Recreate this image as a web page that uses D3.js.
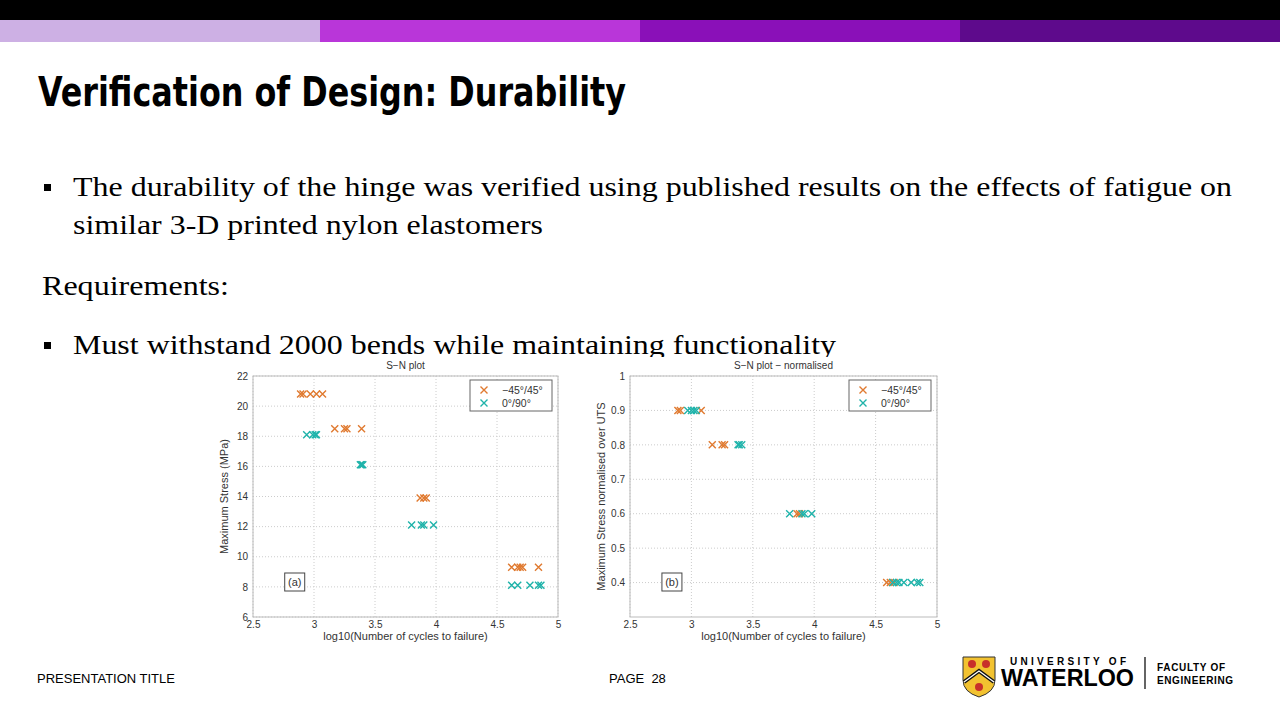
<!DOCTYPE html>
<html><head><meta charset="utf-8">
<script src="https://cdn.jsdelivr.net/npm/d3@7"></script>
<style>body{margin:0;background:#fff}svg{display:block}</style>
</head><body>
<svg id="slide" width="1280" height="720"></svg>
<script>
// chart (a): S-N plot
const snOrange = [[2.89,20.8],[2.91,20.8],[2.97,20.8],[3.02,20.8],[3.07,20.8],
  [3.17,18.5],[3.25,18.5],[3.27,18.5],[3.39,18.5],
  [3.87,13.9],[3.90,13.9],[3.92,13.9],
  [4.62,9.3],[4.67,9.3],[4.69,9.3],[4.71,9.3],[4.84,9.3]];
const snTeal = [[2.94,18.1],[2.99,18.1],[3.01,18.1],[3.02,18.1],
  [3.38,16.1],[3.39,16.1],[3.40,16.1],
  [3.80,12.1],[3.88,12.1],[3.90,12.1],[3.98,12.1],
  [4.62,8.1],[4.67,8.1],[4.77,8.1],[4.84,8.1],[4.86,8.1]];
// chart (b): normalised
const normOrange = [[2.89,0.9],[2.91,0.9],[3.08,0.9],[3.17,0.8],[3.25,0.8],[3.27,0.8],
  [3.86,0.6],[3.88,0.6],[4.59,0.4],[4.62,0.4],[4.65,0.4]];
const normTeal = [[2.97,0.9],[3.00,0.9],[3.02,0.9],[3.04,0.9],[3.38,0.8],[3.39,0.8],[3.41,0.8],
  [3.80,0.6],[3.90,0.6],[3.92,0.6],[3.98,0.6],
  [4.64,0.4],[4.67,0.4],[4.69,0.4],[4.73,0.4],[4.79,0.4],[4.84,0.4],[4.86,0.4]];
const xTicks = [2.5,3,3.5,4,4.5,5];
const yTicksA = [6,8,10,12,14,16,18,20,22];
const yTicksB = [0.4,0.5,0.6,0.7,0.8,0.9,1];
const legendLabels = ["\u221245\u00b0/45\u00b0","0\u00b0/90\u00b0"];
const barColors = ["#cdb0e4","#b936d9","#8a10b8","#5e0a8c"];

const ORANGE = "#e07a30", TEAL = "#1fb3aa";
const svg = d3.select("#slide");

svg.append("rect").attr("width",1280).attr("height",20).attr("fill","#000");
svg.selectAll(".bar").data(barColors).join("rect")
  .attr("x",(d,i)=>i*320).attr("y",20).attr("width",320).attr("height",22).attr("fill",d=>d);

svg.append("text").attr("x",38).attr("y",106)
  .style("font-family","'DejaVu Sans Condensed','Liberation Sans Narrow',sans-serif")
  .style("font-weight","bold").style("font-size","40px").attr("textLength",588)
  .attr("lengthAdjust","spacingAndGlyphs")
  .text("Verification of Design: Durability");

const serif = "'Liberation Serif','DejaVu Serif',serif";
function line(x,y,t,len,bullet){
  if(bullet) svg.append("rect").attr("x",44).attr("y",y-12).attr("width",7).attr("height",7).attr("fill","#000");
  svg.append("text").attr("x",x).attr("y",y).style("font-family",serif).style("font-size","28px")
    .attr("textLength",len).attr("lengthAdjust","spacingAndGlyphs").text(t);
}
line(73,196,"The durability of the hinge was verified using published results on the effects of fatigue on",1159,true);
line(73,234,"similar 3-D printed nylon elastomers",470);
line(42,295,"Requirements:",187);
line(73,354,"Must withstand 2000 bends while maintaining functionality",763,true);

svg.append("rect").attr("x",215).attr("y",357).attr("width",740).attr("height",290).attr("fill","#fff");

function plot(x0,x1,y0,y1,yDom,yTicks,yFmt,title,ylab,tag,orange,teal){
  const g = svg.append("g").style("font-family","'Liberation Sans',Arial,sans-serif");
  const x = d3.scaleLinear().domain([2.5,5]).range([x0,x1]);
  const y = d3.scaleLinear().domain(yDom).range([y1,y0]);
  g.selectAll(".gx").data(xTicks).join("line").attr("x1",d=>x(d)).attr("x2",d=>x(d))
    .attr("y1",y0).attr("y2",y1).attr("stroke","#ccc").attr("stroke-dasharray","1,2");
  g.selectAll(".gy").data(yTicks).join("line").attr("x1",x0).attr("x2",x1)
    .attr("y1",d=>y(d)).attr("y2",d=>y(d)).attr("stroke","#ccc").attr("stroke-dasharray","1,2");
  g.append("rect").attr("x",x0).attr("y",y0).attr("width",x1-x0).attr("height",y1-y0)
    .attr("fill","none").attr("stroke","#bbb");
  const ax = g.append("g").attr("transform",`translate(0,${y1})`)
    .call(d3.axisBottom(x).tickValues(xTicks).tickSize(0).tickPadding(4).tickFormat(d3.format("")));
  const ay = g.append("g").attr("transform",`translate(${x0},0)`)
    .call(d3.axisLeft(y).tickValues(yTicks).tickSize(0).tickPadding(5).tickFormat(yFmt));
  [ax,ay].forEach(a=>{a.select(".domain").remove();a.selectAll("text").style("font-size","10px").attr("fill","#333");});
  g.append("text").attr("x",(x0+x1)/2).attr("y",y0-7).attr("text-anchor","middle").style("font-size","10px").attr("fill","#333").text(title);
  g.append("text").attr("x",(x0+x1)/2).attr("y",y1+23).attr("text-anchor","middle").style("font-size","11px").attr("fill","#333").text("log10(Number of cycles to failure)");
  g.append("text").attr("transform",`translate(${x0-25},${(y0+y1)/2}) rotate(-90)`).attr("text-anchor","middle").style("font-size","11px").attr("fill","#333").text(ylab);
  const cross = (sel,data,c)=>sel.selectAll(null).data(data).join("path")
    .attr("d",d=>{const px=x(d[0]),py=y(d[1]);return `M${px-3.5},${py-3.5}L${px+3.5},${py+3.5}M${px-3.5},${py+3.5}L${px+3.5},${py-3.5}`;})
    .attr("stroke",c).attr("stroke-width",1.4).attr("fill","none");
  cross(g,orange,ORANGE); cross(g,teal,TEAL);
  // legend
  const lx = x1-88, ly = y0+4;
  g.append("rect").attr("x",lx).attr("y",ly).attr("width",82).attr("height",31).attr("fill","#fff").attr("stroke","#666");
  legendLabels.forEach((t,i)=>{
    const cy = ly+10+i*13, cx = lx+14;
    g.append("path").attr("d",`M${cx-3.5},${cy-3.5}L${cx+3.5},${cy+3.5}M${cx-3.5},${cy+3.5}L${cx+3.5},${cy-3.5}`)
      .attr("stroke",i?TEAL:ORANGE).attr("stroke-width",1.4);
    g.append("text").attr("x",lx+32).attr("y",cy+3.5).style("font-size","10.5px").attr("fill","#333").text(t);
  });
  // tag
  g.append("rect").attr("x",x(2.76)).attr("y",y1-44).attr("width",20).attr("height",18).attr("fill","#fff").attr("stroke","#444");
  g.append("text").attr("x",x(2.76)+10).attr("y",y1-31).attr("text-anchor","middle").style("font-size","11px").attr("fill","#333").text(tag);
}
plot(253,558,376,617,[6,22],yTicksA,d3.format("d"),"S\u2212N plot","Maximum Stress (MPa)","(a)",snOrange,snTeal);
plot(630,937,376,617,[0.3,1],yTicksB,d=>d===1?"1":d3.format(".1f")(d),"S\u2212N plot \u2212 normalised","Maximum Stress normalised over UTS","(b)",normOrange,normTeal);

const sans = "'Liberation Sans',Arial,sans-serif";
svg.append("text").attr("x",37).attr("y",683).style("font-family",sans).style("font-size","13px").text("PRESENTATION TITLE");
svg.append("text").attr("x",609).attr("y",683).style("font-family",sans).style("font-size","13px").attr("xml:space","preserve").text("PAGE  28");

// logo
const lg = svg.append("g");
lg.append("path").attr("d","M963,657 L995,657 L995,680 Q995,692 979,697 Q963,692 963,680 Z").attr("fill","#f2c230").attr("stroke","#333").attr("stroke-width",1);
lg.append("path").attr("d","M964,682 L979,671 L994,682").attr("fill","none").attr("stroke","#111").attr("stroke-width",4);
lg.append("path").attr("d","M964,682 L979,671 L994,682").attr("fill","none").attr("stroke","#fff").attr("stroke-width",1.3);
[[972,664],[986,664],[979,687]].forEach(p=>lg.append("circle").attr("cx",p[0]).attr("cy",p[1]).attr("r",4).attr("fill","#c8302a"));
lg.append("text").attr("x",1010).attr("y",665).style("font-family",sans).style("font-weight","bold").style("font-size","10px").attr("textLength",116).text("UNIVERSITY OF");
lg.append("text").attr("x",1001).attr("y",686).style("font-family",sans).style("font-weight","bold").style("font-size","23px").attr("textLength",133).attr("lengthAdjust","spacingAndGlyphs").text("WATERLOO");
lg.append("line").attr("x1",1145).attr("x2",1145).attr("y1",657).attr("y2",689).attr("stroke","#111").attr("stroke-width",1.3);
lg.append("text").attr("x",1157).attr("y",671).style("font-family",sans).style("font-weight","bold").style("font-size","10px").attr("textLength",68).text("FACULTY OF");
lg.append("text").attr("x",1157).attr("y",684).style("font-family",sans).style("font-weight","bold").style("font-size","10px").attr("textLength",76).text("ENGINEERING");
</script>
</body></html>
